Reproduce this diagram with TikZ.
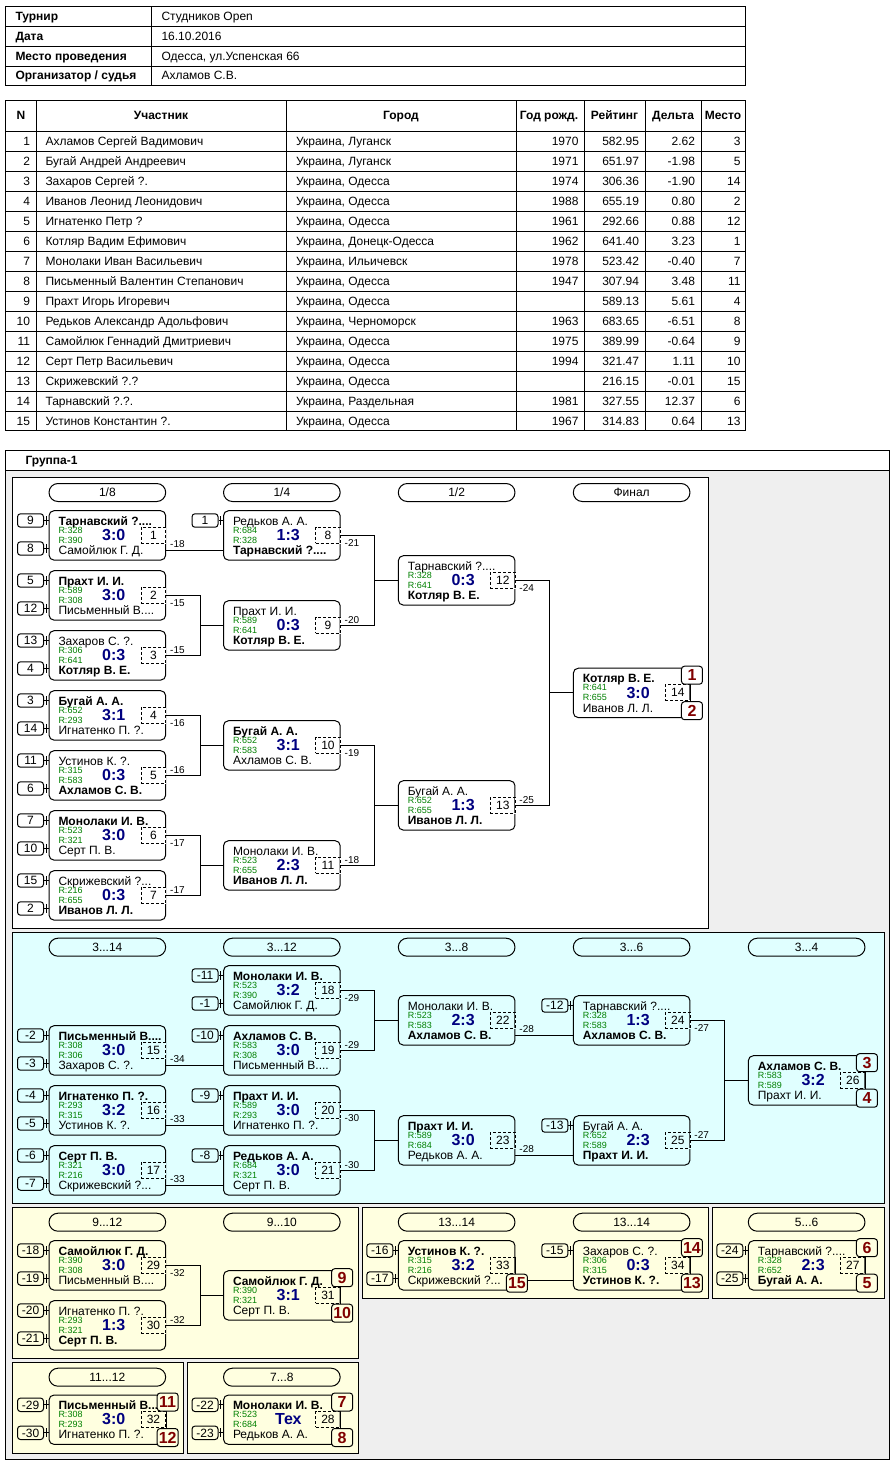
\documentclass[tikz,border=0pt]{standalone}
\usepackage{fontspec}
\setmainfont{Liberation Sans}
\usetikzlibrary{calc}
\definecolor{rgreen}{RGB}{0,128,0}
\definecolor{rnavy}{RGB}{0,0,128}
\definecolor{rdred}{RGB}{128,0,0}
\definecolor{cybg}{RGB}{224,255,255}
\definecolor{yebg}{RGB}{255,255,224}
\definecolor{grbg}{RGB}{239,239,239}
\colorlet{secbg}{white}
\tikzset{
 matchbox/.style={draw, rounded corners=3.75pt, minimum width=87.5pt, minimum height=37.05pt, inner sep=0pt},
 tx/.style={inner sep=0pt, font=\fontsize{9}{10}\selectfont, text height=6.44pt, text depth=0pt},
 tb/.style={inner sep=0pt, font=\fontsize{9}{10}\selectfont\bfseries, text height=6.44pt, text depth=0pt},
 pname/.style={tx, anchor=west},
 rat/.style={anchor=west, inner sep=0pt, font=\fontsize{6.75}{8}\selectfont, text height=4.83pt, text depth=0pt, text=rgreen},
 score/.style={inner sep=0pt, font=\fontsize{12}{14}\selectfont\bfseries, text height=8.6pt, text depth=0pt, text=rnavy},
 numbox/.style={tx, draw, dash pattern=on 2.25pt off 1.5pt, minimum width=18.4pt, minimum height=12pt, preaction={draw=secbg, solid}},
 seed/.style={tx, draw, rounded corners=2.25pt, minimum width=19.5pt, minimum height=10.1pt},
 place/.style={draw, fill=secbg, rounded corners=2.25pt, minimum width=15.75pt, minimum height=13.5pt, inner sep=0pt, font=\fontsize{12}{14}\selectfont\bfseries, text=rdred, text height=8.6pt, text depth=0pt},
 hdr/.style={tx, draw, rounded corners=6.7pt, minimum width=87.5pt, minimum height=13.5pt},
 lbl/.style={anchor=west, inner sep=0pt, font=\fontsize{7.5}{9}\selectfont, text height=5.37pt, text depth=0pt},
}
\def\ca{49}\def\cb{223.5}\def\cc{398.3}\def\cd{573.3}\def\ce{748.3}
% #1 left, #2 top, #3 number, #4 winner, #5 name1, #6 r1, #7 score, #8 r2, #9 name2
\newcommand\mtch[9]{%
 \ifnum#4=1 \def\fa{\bfseries}\def\fb{}\else\def\fa{}\def\fb{\bfseries}\fi
 \node[matchbox] (m#3) at (#1+58.35,#2+24.7) {};
 \node[pname] (m#3p) at (#1+9,#2+10.2) {\fa #5};
 \node[rat] (m#3r) at (#1+9,#2+19.1) {R:#6};
 \node[rat] (m#3s) at (#1+9,#2+29.1) {R:#8};
 \node[pname] (m#3q) at (#1+9,#2+39.6) {\fb #9};
 \node[score] (m#3c) at (#1+64.8,#2+24.2) {#7};
 \node[numbox] (m#3n) at (#1+104.45,#2+24.3) {#3};
}
\newcommand\sed[3]{%
 \if a#2\def\sdy{-14.9}\else\def\sdy{13.1}\fi
 \node[seed] (s#1#2) at ($(m#1.west)+(-18,\sdy)$) {#3};
 \draw (s#1#2.east) -- (s#1#2.east -| m#1.west);
 \draw ($(s#1#2.east)+(2.2,-4.5)$) -- ($(s#1#2.east)+(2.2,4.5)$);
}
\newcommand\plc[3]{%
 \if a#2\def\pdy{-17.7}\else\def\pdy{17.8}\fi
 \node[place] (p#1#2) at ($(m#1.east)+(1.5,\pdy)$) {#3};
}
\newcommand\plink[1]{\draw (m#1n.north east) -- (m#1n.south east);}
\newcommand\strc[3]{%
 \coordinate (c#1) at ($(m#2.west)+(0,14.9)$);
 \draw (c#1 -| m#1.east) -- (c#1);
 \node[lbl] (l#1) at ($(m#1.east)+(3.5,8.9)$) {#3};
}
\newcommand\brc[5]{%
 \draw (m#1.east) -- ++(34,0) |- (m#3.west);
 \draw (m#2.east) -- ++(34,0) |- (m#3.west);
 \node[lbl] (l#1) at ($(m#1.east)+(3.5,7.4)$) {#4};
 \node[lbl] (l#2) at ($(m#2.east)+(3.5,-5.8)$) {#5};
}
\newcommand\hdrp[4]{\node[hdr] (h#1) at (#2+58.35,#3) {#4};}
\newcommand\prow[7]{%
 \pgfmathsetmacro\ry{121+20*#1}
 \node[tx,anchor=east] (pn#1) at (30.5,\ry) {#1};
 \node[tx,anchor=west] (pa#1) at (45,\ry) {#2};
 \node[tx,anchor=west] (pc#1) at (295.5,\ry) {#3};
 \node[tx,anchor=east] (py#1) at (579,\ry) {#4};
 \node[tx,anchor=east] (pr#1) at (639.5,\ry) {#5};
 \node[tx,anchor=east] (pd#1) at (695.5,\ry) {#6};
 \node[tx,anchor=east] (pm#1) at (741,\ry) {#7};
}
\begin{document}
\begin{tikzpicture}[x=0.75pt,y=-0.75pt,line width=0.75pt]
\useasboundingbox (0,0) rectangle (895,1465);
\fill[white] (0,0) rectangle (895,1465);
% ---------- info table
\draw (5.5,6) rectangle (745,85);
\draw (151,6) -- (151,85);
\draw (5.5,26) -- (745,26) (5.5,46) -- (745,46) (5.5,66) -- (745,66);
\node[tb,anchor=west] (i1) at (15,16) {Турнир};
\node[tb,anchor=west] (i2) at (15,36) {Дата};
\node[tb,anchor=west] (i3) at (15,56) {Место проведения};
\node[tb,anchor=west] (i4) at (15,75.5) {Организатор / судья};
\node[tx,anchor=west] (i5) at (161,16) {Студников Open};
\node[tx,anchor=west] (i6) at (161,36) {16.10.2016};
\node[tx,anchor=west] (i7) at (161,56) {Одесса, ул.Успенская 66};
\node[tx,anchor=west] (i8) at (161,75.5) {Ахламов С.В.};
% ---------- participants
\draw (5.5,100) rectangle (745,430);
\foreach \x in {36,286,516,584,645.5,701} \draw (\x,100) -- (\x,430);
\foreach \i in {0,...,14} \draw (5.5,131+20*\i) -- (745,131+20*\i);
\node[tb] (th1) at (21,115.5) {N};
\node[tb] (th2) at (161,115.5) {Участник};
\node[tb] (th3) at (401,115.5) {Город};
\node[tb] (th4) at (549,115.5) {Год рожд.};
\node[tb] (th5) at (614.5,115.5) {Рейтинг};
\node[tb] (th6) at (673,115.5) {Дельта};
\node[tb] (th7) at (723,115.5) {Место};
\prow{1}{Ахламов Сергей Вадимович}{Украина, Луганск}{1970}{582.95}{2.62}{3}
\prow{2}{Бугай Андрей Андреевич}{Украина, Луганск}{1971}{651.97}{-1.98}{5}
\prow{3}{Захаров Сергей ?.}{Украина, Одесса}{1974}{306.36}{-1.90}{14}
\prow{4}{Иванов Леонид Леонидович}{Украина, Одесса}{1988}{655.19}{0.80}{2}
\prow{5}{Игнатенко Петр ?}{Украина, Одесса}{1961}{292.66}{0.88}{12}
\prow{6}{Котляр Вадим Ефимович}{Украина, Донецк-Одесса}{1962}{641.40}{3.23}{1}
\prow{7}{Монолаки Иван Васильевич}{Украина, Ильичевск}{1978}{523.42}{-0.40}{7}
\prow{8}{Письменный Валентин Степанович}{Украина, Одесса}{1947}{307.94}{3.48}{11}
\prow{9}{Прахт Игорь Игоревич}{Украина, Одесса}{}{589.13}{5.61}{4}
\prow{10}{Редьков Александр Адольфович}{Украина, Черноморск}{1963}{683.65}{-6.51}{8}
\prow{11}{Самойлюк Геннадий Дмитриевич}{Украина, Одесса}{1975}{389.99}{-0.64}{9}
\prow{12}{Серт Петр Васильевич}{Украина, Одесса}{1994}{321.47}{1.11}{10}
\prow{13}{Скрижевский ?.?}{Украина, Одесса}{}{216.15}{-0.01}{15}
\prow{14}{Тарнавский ?.?.}{Украина, Раздельная}{1981}{327.55}{12.37}{6}
\prow{15}{Устинов Константин ?.}{Украина, Одесса}{1967}{314.83}{0.64}{13}
% ---------- group frame
\fill[grbg] (5.3,470.7) rectangle (889,1459);
\draw (5.3,450) rectangle (889,1459);
\draw (5.3,470.7) -- (889,470.7);
\node[tb,anchor=west] (grp) at (25,460.5) {Группа-1};
\filldraw[fill=white] (12.7,477) rectangle (708.3,928.7);
\filldraw[fill=cybg] (12.7,932.7) rectangle (884,1203);
\filldraw[fill=yebg] (12.7,1207.3) rectangle (358.3,1358.3);
\filldraw[fill=yebg] (362.7,1207.3) rectangle (708.3,1298.3);
\filldraw[fill=yebg] (712.7,1207.3) rectangle (884,1298.3);
\filldraw[fill=yebg] (12.7,1362.3) rectangle (183.7,1453.3);
\filldraw[fill=yebg] (187.7,1362.3) rectangle (358.3,1453.3);
% ---------- main bracket
\colorlet{secbg}{white}
\hdrp{a1}{\ca}{492.5}{1/8}
\hdrp{a2}{\cb}{492.5}{1/4}
\hdrp{a3}{\cc}{492.5}{1/2}
\hdrp{a4}{\cd}{492.5}{Финал}
\mtch{\ca}{510.7}{1}{1}{Тарнавский ?....}{328}{3:0}{390}{Самойлюк Г. Д.}
\mtch{\ca}{570.7}{2}{1}{Прахт И. И.}{589}{3:0}{308}{Письменный В....}
\mtch{\ca}{630.7}{3}{2}{Захаров С. ?.}{306}{0:3}{641}{Котляр В. Е.}
\mtch{\ca}{690.7}{4}{1}{Бугай А. А.}{652}{3:1}{293}{Игнатенко П. ?.}
\mtch{\ca}{750.7}{5}{2}{Устинов К. ?.}{315}{0:3}{583}{Ахламов С. В.}
\mtch{\ca}{810.7}{6}{1}{Монолаки И. В.}{523}{3:0}{321}{Серт П. В.}
\mtch{\ca}{870.7}{7}{2}{Скрижевский ?...}{216}{0:3}{655}{Иванов Л. Л.}
\mtch{\cb}{510.7}{8}{2}{Редьков А. А.}{684}{1:3}{328}{Тарнавский ?....}
\mtch{\cb}{600.7}{9}{2}{Прахт И. И.}{589}{0:3}{641}{Котляр В. Е.}
\mtch{\cb}{720.7}{10}{1}{Бугай А. А.}{652}{3:1}{583}{Ахламов С. В.}
\mtch{\cb}{840.7}{11}{2}{Монолаки И. В.}{523}{2:3}{655}{Иванов Л. Л.}
\mtch{\cc}{555.7}{12}{2}{Тарнавский ?....}{328}{0:3}{641}{Котляр В. Е.}
\mtch{\cc}{780.7}{13}{2}{Бугай А. А.}{652}{1:3}{655}{Иванов Л. Л.}
\mtch{\cd}{668.2}{14}{1}{Котляр В. Е.}{641}{3:0}{655}{Иванов Л. Л.}
\sed{1}{a}{9}\sed{1}{b}{8}\sed{2}{a}{5}\sed{2}{b}{12}
\sed{3}{a}{13}\sed{3}{b}{4}\sed{4}{a}{3}\sed{4}{b}{14}
\sed{5}{a}{11}\sed{5}{b}{6}\sed{6}{a}{7}\sed{6}{b}{10}
\sed{7}{a}{15}\sed{7}{b}{2}\sed{8}{a}{1}
\strc{1}{8}{-18}
\brc{2}{3}{9}{-15}{-15}
\brc{4}{5}{10}{-16}{-16}
\brc{6}{7}{11}{-17}{-17}
\brc{8}{9}{12}{-21}{-20}
\brc{10}{11}{13}{-19}{-18}
\brc{12}{13}{14}{-24}{-25}
\plink{14}\plc{14}{a}{1}\plc{14}{b}{2}
% ---------- cyan
\colorlet{secbg}{cybg}
\hdrp{b1}{\ca}{947.2}{3...14}
\hdrp{b2}{\cb}{947.2}{3...12}
\hdrp{b3}{\cc}{947.2}{3...8}
\hdrp{b4}{\cd}{947.2}{3...6}
\hdrp{b5}{\ce}{947.2}{3...4}
\mtch{\ca}{1025.7}{15}{1}{Письменный В....}{308}{3:0}{306}{Захаров С. ?.}
\mtch{\ca}{1085.7}{16}{1}{Игнатенко П. ?.}{293}{3:2}{315}{Устинов К. ?.}
\mtch{\ca}{1145.7}{17}{1}{Серт П. В.}{321}{3:0}{216}{Скрижевский ?...}
\mtch{\cb}{965.7}{18}{1}{Монолаки И. В.}{523}{3:2}{390}{Самойлюк Г. Д.}
\mtch{\cb}{1025.7}{19}{1}{Ахламов С. В.}{583}{3:0}{308}{Письменный В....}
\mtch{\cb}{1085.7}{20}{1}{Прахт И. И.}{589}{3:0}{293}{Игнатенко П. ?.}
\mtch{\cb}{1145.7}{21}{1}{Редьков А. А.}{684}{3:0}{321}{Серт П. В.}
\mtch{\cc}{995.7}{22}{2}{Монолаки И. В.}{523}{2:3}{583}{Ахламов С. В.}
\mtch{\cc}{1115.7}{23}{1}{Прахт И. И.}{589}{3:0}{684}{Редьков А. А.}
\mtch{\cd}{995.7}{24}{2}{Тарнавский ?....}{328}{1:3}{583}{Ахламов С. В.}
\mtch{\cd}{1115.7}{25}{2}{Бугай А. А.}{652}{2:3}{589}{Прахт И. И.}
\mtch{\ce}{1055.7}{26}{1}{Ахламов С. В.}{583}{3:2}{589}{Прахт И. И.}
\sed{15}{a}{-2}\sed{15}{b}{-3}\sed{16}{a}{-4}\sed{16}{b}{-5}
\sed{17}{a}{-6}\sed{17}{b}{-7}\sed{18}{a}{-11}\sed{18}{b}{-1}
\sed{19}{a}{-10}\sed{20}{a}{-9}\sed{21}{a}{-8}
\sed{24}{a}{-12}\sed{25}{a}{-13}
\strc{15}{19}{-34}
\strc{16}{20}{-33}
\strc{17}{21}{-33}
\brc{18}{19}{22}{-29}{-29}
\brc{20}{21}{23}{-30}{-30}
\strc{22}{24}{-28}
\strc{23}{25}{-28}
\brc{24}{25}{26}{-27}{-27}
\plink{26}\plc{26}{a}{3}\plc{26}{b}{4}
% ---------- yellow
\colorlet{secbg}{yebg}
\hdrp{c1}{\ca}{1222.2}{9...12}
\hdrp{c2}{\cb}{1222.2}{9...10}
\hdrp{c3}{\cc}{1222.2}{13...14}
\hdrp{c4}{\cd}{1222.2}{13...14}
\hdrp{c5}{\ce}{1222.2}{5...6}
\hdrp{c6}{\ca}{1377.2}{11...12}
\hdrp{c7}{\cb}{1377.2}{7...8}
\mtch{\ca}{1240.7}{29}{1}{Самойлюк Г. Д.}{390}{3:0}{308}{Письменный В....}
\mtch{\ca}{1300.7}{30}{2}{Игнатенко П. ?.}{293}{1:3}{321}{Серт П. В.}
\mtch{\cb}{1270.7}{31}{1}{Самойлюк Г. Д.}{390}{3:1}{321}{Серт П. В.}
\mtch{\cc}{1240.7}{33}{1}{Устинов К. ?.}{315}{3:2}{216}{Скрижевский ?...}
\mtch{\cd}{1240.7}{34}{2}{Захаров С. ?.}{306}{0:3}{315}{Устинов К. ?.}
\mtch{\ce}{1240.7}{27}{2}{Тарнавский ?....}{328}{2:3}{652}{Бугай А. А.}
\mtch{\ca}{1395}{32}{1}{Письменный В....}{308}{3:0}{293}{Игнатенко П. ?.}
\mtch{\cb}{1395}{28}{1}{Монолаки И. В.}{523}{Тех}{684}{Редьков А. А.}
\sed{29}{a}{-18}\sed{29}{b}{-19}\sed{30}{a}{-20}\sed{30}{b}{-21}
\sed{33}{a}{-16}\sed{33}{b}{-17}\sed{34}{a}{-15}
\sed{27}{a}{-24}\sed{27}{b}{-25}
\sed{32}{a}{-29}\sed{32}{b}{-30}
\sed{28}{a}{-22}\sed{28}{b}{-23}
\brc{29}{30}{31}{-32}{-32}
\plink{31}\plc{31}{a}{9}\plc{31}{b}{10}
\plink{33}\plc{33}{b}{15}
\coordinate (c33) at ($(m34.west)+(0,14.9)$);
\draw (p33b.east |- c33) -- (c33);
\plink{34}\plc{34}{a}{14}\plc{34}{b}{13}
\plink{27}\plc{27}{a}{6}\plc{27}{b}{5}
\plink{32}\plc{32}{a}{11}\plc{32}{b}{12}
\plink{28}\plc{28}{a}{7}\plc{28}{b}{8}
\end{tikzpicture}
\end{document}
